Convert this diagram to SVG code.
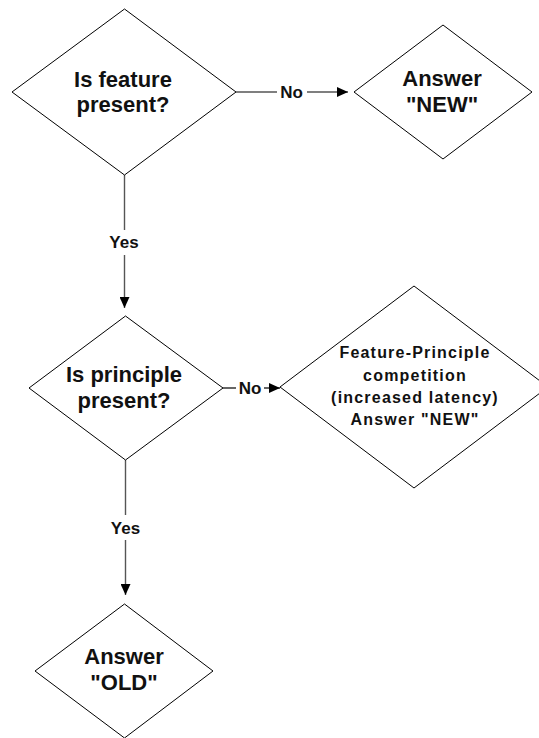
<svg xmlns="http://www.w3.org/2000/svg" width="539" height="738" viewBox="0 0 539 738">
  <style>
    .shape { fill: #ffffff; stroke: #000000; stroke-width: 1; }
    .edge { fill: none; stroke: #000000; stroke-width: 1.2; }
    .edge-v { fill: none; stroke: #555555; stroke-width: 1.4; }
    .big { font-family: "Liberation Sans", Arial, sans-serif; font-weight: bold; font-size: 22px; fill: #111111; text-anchor: middle; }
    .mid { font-family: "Liberation Sans", Arial, sans-serif; font-weight: bold; font-size: 16px; letter-spacing: 1.2px; fill: #111111; text-anchor: middle; }
    .lbl { font-family: "Liberation Sans", Arial, sans-serif; font-weight: bold; font-size: 17px; fill: #111111; text-anchor: middle; }
  </style>
  <defs>
    <marker id="arrow" markerUnits="userSpaceOnUse" markerWidth="12" markerHeight="10" refX="11" refY="5" orient="auto">
      <path d="M0,0 L11,5 L0,10 z" fill="#000000"/>
    </marker>
  </defs>
  <rect width="539" height="738" fill="#ffffff"/>

  <g id="connectors">
    <!-- feature? -> NEW -->
    <line class="edge" x1="236" y1="92" x2="277" y2="92"/>
    <line class="edge" x1="307" y1="92" x2="348" y2="92" marker-end="url(#arrow)"/>
    <text class="lbl" x="291.5" y="98">No</text>
    <!-- feature? -> principle? -->
    <line class="edge-v" x1="124.5" y1="175" x2="124.5" y2="230"/>
    <line class="edge-v" x1="124.5" y1="255" x2="124.5" y2="308" marker-end="url(#arrow)"/>
    <text class="lbl" x="124" y="248">Yes</text>
    <!-- principle? -> competition -->
    <line class="edge" x1="223" y1="388" x2="236" y2="388"/>
    <line class="edge" x1="264" y1="388" x2="280" y2="388" marker-end="url(#arrow)"/>
    <text class="lbl" x="250" y="394">No</text>
    <!-- principle? -> OLD -->
    <line class="edge-v" x1="125.5" y1="460" x2="125.5" y2="515"/>
    <line class="edge-v" x1="125.5" y1="540" x2="125.5" y2="595" marker-end="url(#arrow)"/>
    <text class="lbl" x="125.5" y="534">Yes</text>
  </g>

  <g id="feature-present">
    <polygon class="shape" points="124.5,9 236,92 124.5,175 12,92"/>
    <text class="big" x="123" y="87">Is feature</text>
    <text class="big" x="123" y="112">present?</text>
  </g>

  <g id="answer-new">
    <polygon class="shape" points="443,25 532,92 443,159 354,92"/>
    <text class="big" x="442" y="86">Answer</text>
    <text class="big" x="442" y="112">"NEW"</text>
  </g>

  <g id="principle-present">
    <polygon class="shape" points="125.5,316 223,388 125.5,460 29,388"/>
    <text class="big" x="124" y="382">Is principle</text>
    <text class="big" x="124" y="408">present?</text>
  </g>

  <g id="competition">
    <polygon class="shape" points="414,286 548,387 414,488 280,387"/>
    <text class="mid" x="415" y="358">Feature-Principle</text>
    <text class="mid" x="415" y="381">competition</text>
    <text class="mid" x="415" y="403">(increased latency)</text>
    <text class="mid" x="415" y="425">Answer "NEW"</text>
  </g>

  <g id="answer-old">
    <polygon class="shape" points="124.5,604 213,671 124.5,738 35,671"/>
    <text class="big" x="124" y="664">Answer</text>
    <text class="big" x="124" y="690">"OLD"</text>
  </g>
</svg>
